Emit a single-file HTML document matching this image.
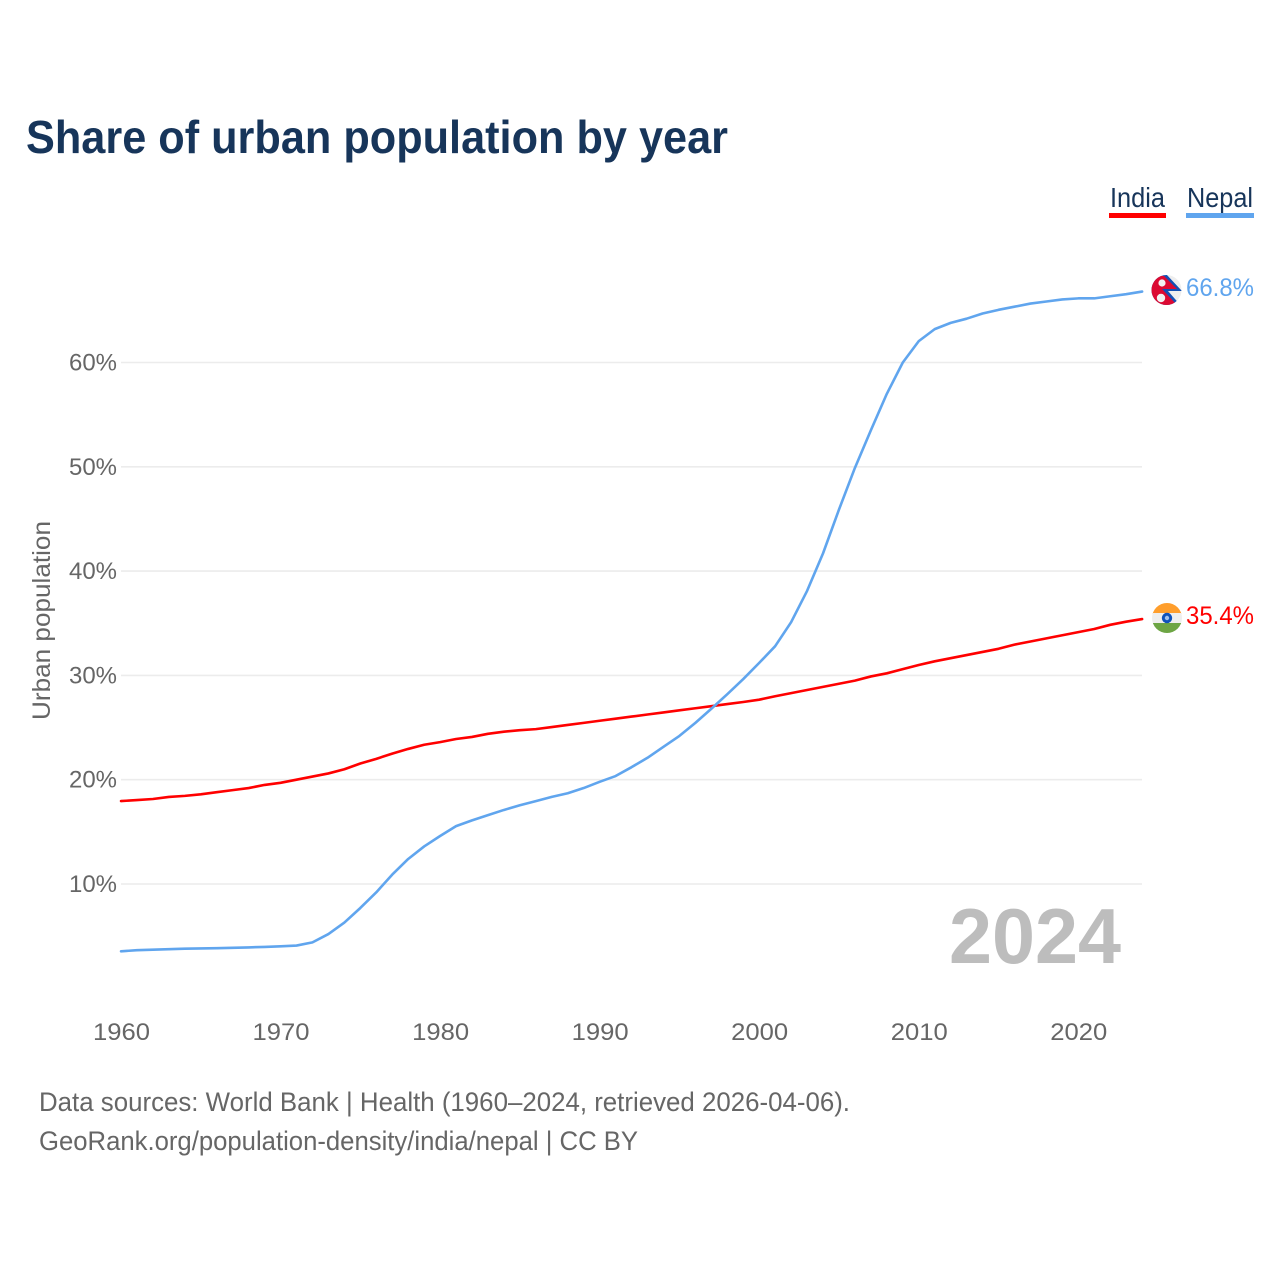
<!DOCTYPE html>
<html>
<head>
<meta charset="utf-8">
<title>Share of urban population by year</title>
<style>
html,body{margin:0;padding:0;background:#fff;width:1280px;height:1280px;overflow:hidden}
svg{display:block}
text{font-family:"Liberation Sans",sans-serif}
</style>
</head>
<body>
<svg id="chart" width="1280" height="1280" viewBox="0 0 1280 1280" xmlns="http://www.w3.org/2000/svg">
  <defs>
    <clipPath id="nepal-clip"><circle cx="1166.5" cy="290" r="15"></circle></clipPath>
    <clipPath id="india-clip"><circle cx="1167" cy="618" r="15"></circle></clipPath>
  </defs>
  <text x="26" y="153" font-size="46" font-weight="700" fill="#17355a" textLength="702" lengthAdjust="spacingAndGlyphs">Share of urban population by year</text>

  <text x="1110" y="207" font-size="27.5" fill="#17355a" textLength="55" lengthAdjust="spacingAndGlyphs">India</text>
  <rect x="1109" y="213" width="57" height="5" fill="#ff0000"></rect>
  <text x="1187" y="207" font-size="27.5" fill="#17355a" textLength="66" lengthAdjust="spacingAndGlyphs">Nepal</text>
  <rect x="1186" y="213" width="68" height="5" fill="#60a5ee"></rect>

  <g id="grid"></g>
  <g id="y-ticks"></g>
  <g id="x-ticks"></g>

  <text transform="translate(50,720) rotate(-90)" font-size="25" fill="#666666" textLength="199" lengthAdjust="spacingAndGlyphs">Urban population</text>

  <text x="949" y="963" font-size="78" font-weight="700" fill="#bdbdbd" textLength="172" lengthAdjust="spacingAndGlyphs">2024</text>

  <path id="line-india" fill="none" stroke="#ff0000" stroke-width="2.6" stroke-linejoin="round" stroke-linecap="round"></path>
  <path id="line-nepal" fill="none" stroke="#60a5ee" stroke-width="2.6" stroke-linejoin="round" stroke-linecap="round"></path>

  <g clip-path="url(#nepal-clip)">
    <rect x="1151" y="275" width="31" height="30" fill="#eeeeee"></rect>
    <polygon points="1150,272 1166,274 1182,291 1168,291 1182,307 1150,307" fill="#1450b4"></polygon>
    <polygon points="1150,275 1164,276 1177,289 1162,289 1177,305 1150,305" fill="#dc0a32"></polygon>
    <circle cx="1162" cy="283" r="3.6" fill="#f2f2f2"></circle>
    <circle cx="1161" cy="298" r="4.2" fill="#f2f2f2"></circle>
  </g>
  <text id="label-nepal" x="1186" y="296" font-size="25" fill="#60a5ee" textLength="68" lengthAdjust="spacingAndGlyphs"></text>

  <g clip-path="url(#india-clip)">
    <rect x="1152" y="603" width="30" height="11" fill="#ff9e2c"></rect>
    <rect x="1152" y="613" width="30" height="11" fill="#eeeeee"></rect>
    <rect x="1152" y="623" width="30" height="11" fill="#6da544"></rect>
    <circle cx="1167" cy="618" r="5.2" fill="#0f52ba"></circle>
    <circle cx="1167" cy="618" r="2.2" fill="#9fc0ee"></circle>
  </g>
  <text id="label-india" x="1186" y="624" font-size="25" fill="#ff0000" textLength="68" lengthAdjust="spacingAndGlyphs"></text>

  <text x="39" y="1111" font-size="27" fill="#666666" textLength="811" lengthAdjust="spacingAndGlyphs">Data sources: World Bank | Health (1960–2024, retrieved 2026-04-06).</text>
  <text x="39" y="1150" font-size="27" fill="#666666" textLength="599" lengthAdjust="spacingAndGlyphs">GeoRank.org/population-density/india/nepal | CC BY</text>
</svg>
<script>
const startYear = 1960;
const indiaValues = [17.95,18.05,18.15,18.35,18.45,18.6,18.8,19,19.2,19.5,19.7,20,20.3,20.6,21,21.55,22,22.5,22.95,23.35,23.6,23.9,24.1,24.4,24.6,24.75,24.85,25.05,25.25,25.45,25.65,25.85,26.05,26.25,26.45,26.65,26.85,27.05,27.25,27.45,27.67,28,28.3,28.6,28.9,29.2,29.5,29.9,30.2,30.6,31,31.35,31.65,31.95,32.25,32.55,32.95,33.25,33.55,33.85,34.15,34.45,34.85,35.15,35.4];
const nepalValues = [3.55,3.65,3.7,3.75,3.8,3.82,3.85,3.88,3.92,3.97,4.03,4.1,4.4,5.2,6.3,7.7,9.2,10.9,12.4,13.6,14.6,15.55,16.1,16.6,17.1,17.55,17.95,18.35,18.7,19.2,19.8,20.35,21.2,22.1,23.15,24.2,25.45,26.8,28.2,29.65,31.2,32.8,35.1,38.1,41.7,45.9,49.9,53.5,57,60,62.05,63.2,63.8,64.2,64.7,65.05,65.35,65.65,65.85,66.05,66.15,66.15,66.35,66.55,66.8];
const yTickValues = [10,20,30,40,50,60];
const xTickValues = [1960,1970,1980,1990,2000,2010,2020];

const SVG_NS = 'http://www.w3.org/2000/svg';
function xScale(year){ return 121 + (year - 1960) * 15.955; }
function yScale(v){ return 988.3 - v * 10.43; }
function linePath(values){
  return values.map(function(v,i){
    return (i ? 'L' : 'M') + xScale(startYear + i).toFixed(2) + ' ' + yScale(v).toFixed(2);
  }).join(' ');
}

const gridGroup = document.getElementById('grid');
const yGroup = document.getElementById('y-ticks');
const xGroup = document.getElementById('x-ticks');

yTickValues.forEach(function(v){
  const gl = document.createElementNS(SVG_NS,'line');
  
  
  gl.setAttribute('x1', 121);
  gl.setAttribute('x2', 1142);
  gl.setAttribute('y1', yScale(v));
  gl.setAttribute('y2', yScale(v));
  gl.setAttribute('stroke', '#ececec');
  gl.setAttribute('stroke-width', '1.6');
  gridGroup.appendChild(gl);

  const t = document.createElementNS(SVG_NS,'text');
  
  
  t.setAttribute('x', 69);
  t.setAttribute('y', yScale(v) + 8);
  t.setAttribute('font-size', '24.5');
  t.setAttribute('fill', '#666666');
  t.setAttribute('textLength', '48');
  t.setAttribute('lengthAdjust', 'spacingAndGlyphs');
  t.textContent = v + '%';
  yGroup.appendChild(t);
});

xTickValues.forEach(function(y){
  const t = document.createElementNS(SVG_NS,'text');
  
  
  t.setAttribute('x', xScale(y) - 28);
  t.setAttribute('y', 1040);
  t.setAttribute('font-size', '24.5');
  t.setAttribute('fill', '#666666');
  t.setAttribute('textLength', '57');
  t.setAttribute('lengthAdjust', 'spacingAndGlyphs');
  t.textContent = y;
  xGroup.appendChild(t);
});

document.getElementById('line-india').setAttribute('d', linePath(indiaValues));
document.getElementById('line-nepal').setAttribute('d', linePath(nepalValues));
document.getElementById('label-india').textContent = indiaValues[indiaValues.length-1].toFixed(1) + '%';
document.getElementById('label-nepal').textContent = nepalValues[nepalValues.length-1].toFixed(1) + '%';
</script>
</body>
</html>
